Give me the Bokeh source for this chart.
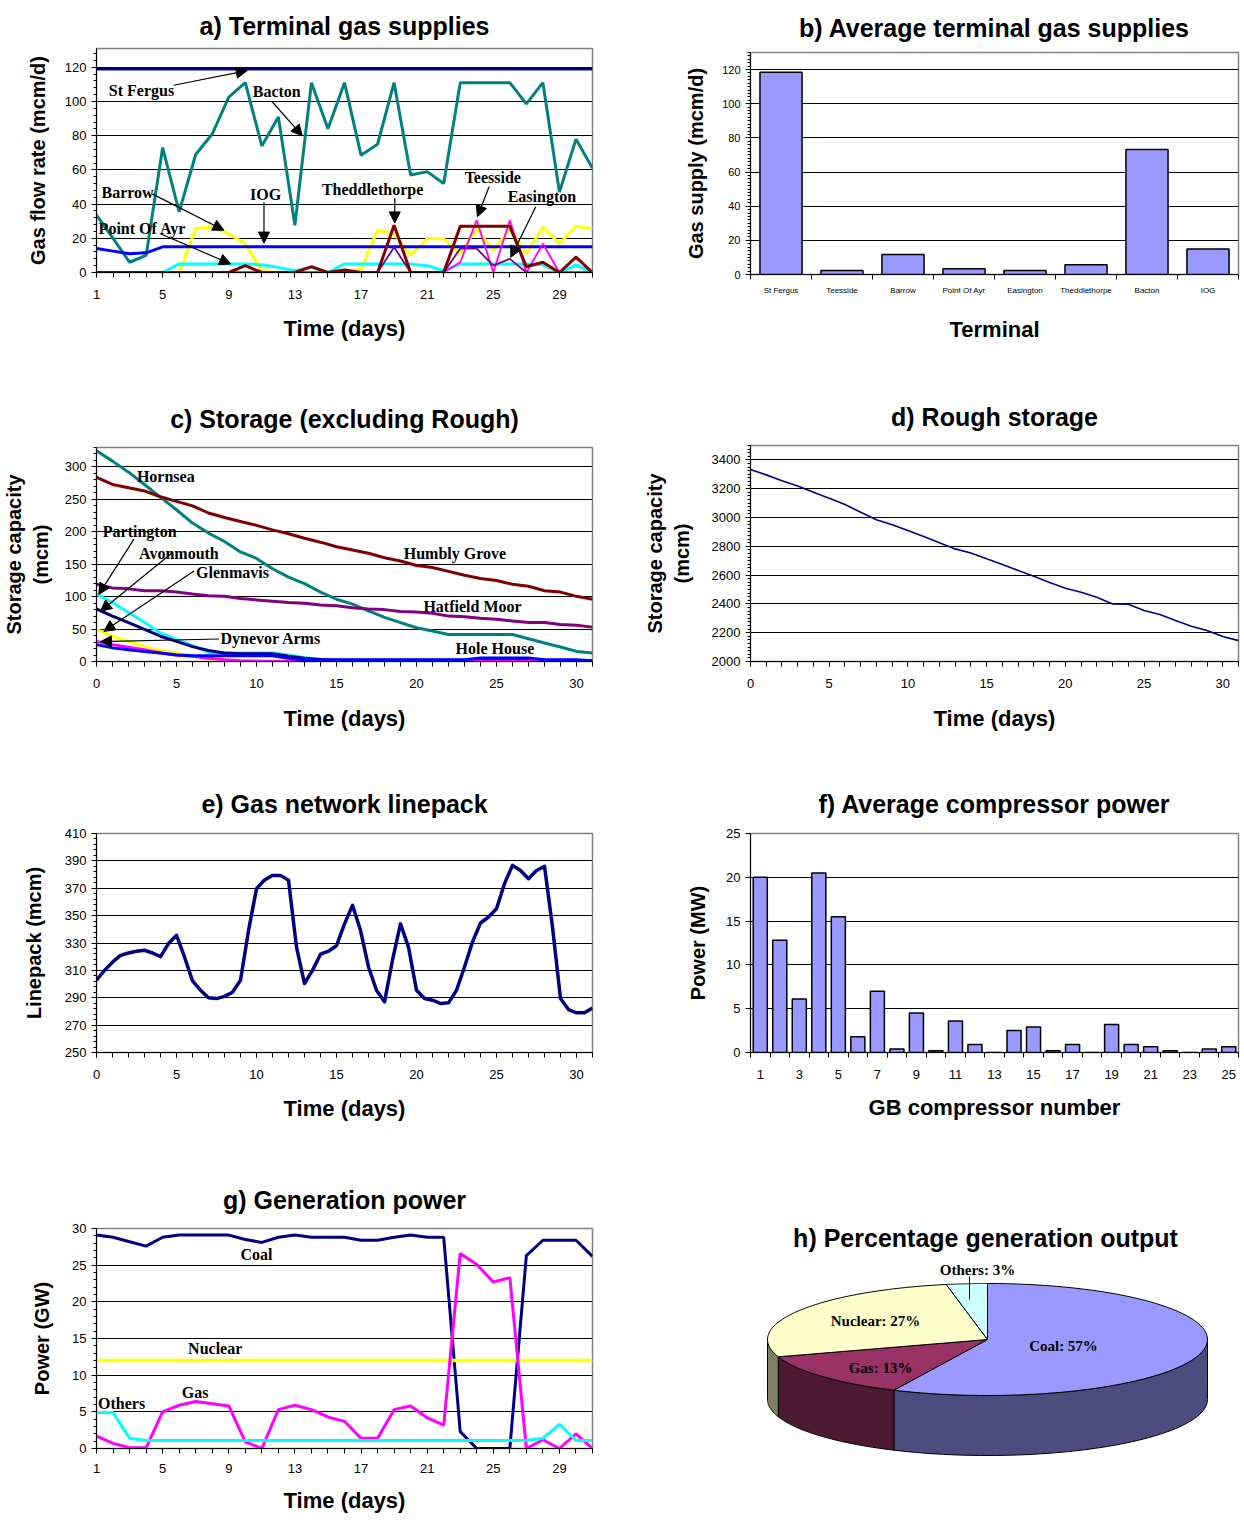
import numpy as np
from bokeh.plotting import figure
from bokeh.layouts import row, column
from bokeh.models import (Range1d, FixedTicker, SingleIntervalTicker, Label, Arrow, NormalHead)
from bokeh.embed import file_html
from bokeh.resources import INLINE

SANS = "Liberation Sans"
SERIF = "Liberation Serif"

# ---------------- data ----------------
# a) terminal gas supplies (mcm/d), days 1..31
days_a = list(range(1, 32))
st_fergus = [119, 119, 119, 119, 119, 119, 119, 119, 119, 119, 119, 119, 119, 119, 119, 119,
             119, 119, 119, 119, 119, 119, 119, 119, 119, 119, 119, 119, 119, 119, 119]
bacton = [33.5, 20, 6, 10, 73, 35.5, 69, 81, 102.5, 111, 74, 91, 27.6, 111, 84, 111,
          68.6, 75, 111, 57, 59, 52, 111, 111, 111, 111, 98.6, 111, 47, 78, 61]
barrow = [0, 0, 0, 0, 0, 0, 25.6, 26.6, 22.7, 16.8, 1, 0, 0, 0, 0, 0,
          2, 24.6, 22.7, 10, 19.7, 19.7, 11, 25.6, 12.8, 25.6, 11, 26.6, 16.8, 27, 25.6]
point_of_ayr = [0, 0, 0, 0, 0, 5, 5, 5, 5, 5, 4.5, 3, 1, 3, 0, 5,
                5, 5, 5, 5, 4, 1, 5, 5, 5, 5, 5, 4.5, 0, 4.5, 0]
iog = [14, 12.5, 11, 11.5, 15, 15, 15, 15, 15, 15, 15, 15, 15, 15, 15, 15,
       15, 15, 15, 15, 15, 15, 15, 15, 15, 15, 15, 15, 15, 15, 15]
teesside = [0, 0, 0, 0, 0, 0, 0, 0, 0, 0, 0, 0, 0, 0, 0, 0,
            0, 0, 0, 0, 0, 0, 6, 30.6, 0, 30.6, 0, 16.8, 0, 0, 0]
easington = [0, 0, 0, 0, 0, 0, 0, 0, 0, 0, 0, 0, 0, 0, 0, 0,
             0, 0, 14.8, 0, 0, 0, 14, 14, 4, 8, 0, 0, 0, 0, 0]
theddlethorpe = [0, 0, 0, 0, 0, 0, 0, 0, 0, 4, 0, 0, 0, 3.4, 0, 1.4,
                 0, 0, 27.6, 0, 0, 0, 27, 27, 27, 27, 3.4, 6, 0, 9, 0]

# b) average terminal gas supplies
terminals = ["St Fergus", "Teesside", "Barrow", "Point Of Ayr", "Easington",
             "Theddlethorpe", "Bacton", "IOG"]
avg_supply = [118.4, 2.3, 11.7, 3.3, 2.3, 5.7, 73.2, 15.0]

# c) storage excluding Rough (mcm), days 0..31
days_c = list(range(0, 32))
hornsea = [325, 309, 292, 273, 253, 234, 213.5, 198, 185, 169, 159, 143, 130, 120, 107, 96,
           88.5, 78, 68, 60, 52, 47, 41.7, 41.7, 41.7, 41.7, 41.7, 35, 28.6, 22.4, 15.6, 13]
humbly_grove = [284, 273, 268, 263, 254, 247, 240, 229, 222, 216, 210, 203, 197, 190, 184, 177,
                172, 167, 160, 155, 148, 145, 139, 133, 128, 125, 119, 116, 109, 107, 100.5, 96]
hatfield_moor = [119, 113.5, 112, 109, 109, 107, 104, 101.5, 100.5, 97, 95, 93, 91, 90, 87, 86,
                 83, 81, 80, 77, 76.5, 74.5, 70, 69, 66.7, 65, 62.5, 60, 60, 57, 56, 53]
partington = [104, 91, 75.5, 60, 44, 34, 24.5, 14, 13, 13, 13, 13, 10, 6, 3, 2,
              2, 2, 2, 2, 2, 2, 2, 2, 2, 2, 2, 1, 1, 1, 1, 1]
avonmouth = [81, 70, 60, 49.5, 39, 31, 23, 17, 13, 12, 12, 12, 8, 5, 3, 2,
             2, 2, 2, 2, 2, 2, 2, 2, 2, 2, 2, 1, 1, 1, 1, 1]
glenmavis = [49.5, 39, 31, 23, 17, 13, 8, 3.6, 1, 1, 1, 1, 0.5, 0, 0, 0,
             0, 0, 0, 0, 0, 0, 0, 0, 0, 0, 0, 0, 0, 0, 0, 0]
dynevor_arms = [31, 26, 22, 18, 13, 10, 8, 5, 2.6, 1, 0.5, 0, 0, 0, 0, 0,
                0, 0, 0, 0, 0, 0, 0, 0, 0, 0, 0, 0, 0, 0, 0, 0]
hole_house = [26, 21, 18, 15.6, 13, 10, 9, 9, 9, 9, 9, 9, 5, 2.6, 2.6, 2.6,
              2.6, 2.6, 2.6, 2.6, 2.6, 2.6, 2.6, 2.6, 5.5, 5.5, 5.5, 5.5, 2.6, 2.6, 2.6, 1]

# d) Rough storage (mcm), days 0..31
rough = [3333, 3296, 3256, 3219, 3175, 3134, 3090, 3037, 2985, 2949, 2909, 2868, 2824, 2782,
         2754, 2713, 2673, 2632, 2592, 2548, 2509, 2481, 2446, 2400, 2398, 2354, 2326, 2285,
         2245, 2215, 2173, 2145]

# e) gas network linepack (mcm), half-day readings 0..31
time_e = [0, 0.5, 1, 1.5, 2, 2.5, 3, 3.5, 4, 4.5, 5, 5.5, 6, 6.5, 7, 7.5, 8, 8.5, 9, 9.5,
          10, 10.5, 11, 11.5, 12, 12.5, 13, 13.5, 14, 14.5, 15, 15.5, 16, 16.5, 17, 17.5,
          18, 18.5, 19, 19.5, 20, 20.5, 21, 21.5, 22, 22.5, 23, 23.5, 24, 24.5, 25, 25.5,
          26, 26.5, 27, 27.5, 28, 28.5, 29, 29.5, 30, 30.5, 31]
linepack = [302.8, 310, 316, 321, 322.7, 324, 324.7, 322.7, 320, 329.6, 335.6, 319.8, 302.3,
            295.5, 290, 289.4, 291, 294, 302.8, 339, 369.7, 376, 379.4, 379.4, 375.8, 327,
            300.4, 310, 321.8, 324, 328, 344, 357.5, 339.3, 312.5, 295.5, 287, 317.4, 344,
            327, 295.5, 289.4, 288.2, 285.8, 286.3, 295.5, 312.5, 330.8, 344.6, 349, 355,
            373.4, 386.7, 383, 377, 383, 386, 341.7, 289.4, 281.4, 279, 279, 282.6]
linepack_ticks = [250, 270, 290, 310, 330, 350, 370, 390, 410]

# f) average compressor power (MW)
compressors = list(range(1, 26))
comp_power = [20, 12.8, 6.1, 20.5, 15.5, 1.8, 7.0, 0.4, 4.5, 0.2, 3.6, 0.9, 0, 2.5, 2.9, 0.2,
              0.9, 0, 3.2, 0.9, 0.65, 0.2, 0, 0.4, 0.65]

# g) generation power (GW), days 1..31
coal = [29.1, 28.8, 28.2, 27.6, 28.8, 29.1, 29.1, 29.1, 29.1, 28.5, 28.1, 28.8, 29.1, 28.8,
        28.8, 28.8, 28.4, 28.4, 28.8, 29.1, 28.8, 28.8, 2.3, 0, 0, 0, 26.3, 28.4, 28.4, 28.4, 26.2]
gas = [1.7, 0.7, 0.1, 0.1, 5.0, 5.9, 6.4, 6.1, 5.8, 0.9, 0, 5.3, 5.9, 5.3, 4.3, 3.7, 1.4, 1.4,
       5.3, 5.8, 4.2, 3.2, 26.6, 25.1, 22.7, 23.3, 0, 1.2, 0, 2.0, 0]
nuclear = [12, 12, 12, 12, 12, 12, 12, 12, 12, 12, 12, 12, 12, 12, 12, 12,
           12, 12, 12, 12, 12, 12, 12, 12, 12, 12, 12, 12, 12, 12, 12]
others = [4.9, 4.9, 1.4, 1.1, 1.1, 1.1, 1.1, 1.1, 1.1, 1.1, 1.1, 1.1, 1.1, 1.1, 1.1, 1.1,
          1.1, 1.1, 1.1, 1.1, 1.1, 1.1, 1.1, 1.1, 1.1, 1.1, 1.1, 1.4, 3.3, 1.1, 1.1]

# h) percentage generation output
gen_names = ["Coal", "Gas", "Nuclear", "Others"]
gen_share = [57, 13, 27, 3]

# ---------------- helpers ----------------
LW, RW = 628, 612
LL, LR = 96, 36      # left column frame borders
RL, RR = 122, 2      # right column frame borders


def make_fig(width, height, left, right, top, bottom, xr, yr, title, toff, tstand):
    p = figure(width=width, height=height, x_range=Range1d(*xr), y_range=Range1d(*yr),
               output_backend="svg", toolbar_location=None,
               min_border_left=left, min_border_right=right,
               min_border_top=top, min_border_bottom=bottom)
    p.title.text = title
    p.title.align = "center"
    p.title.text_font = SANS
    p.title.text_font_size = "25px"
    p.title.text_font_style = "bold"
    p.title.text_color = "black"
    p.title.offset = toff
    p.title.standoff = tstand
    p.xgrid.grid_line_color = None
    p.ygrid.grid_line_color = "#000000"
    p.ygrid.grid_line_width = 1
    p.outline_line_color = "#808080"
    p.outline_line_width = 1.5
    p.background_fill_color = "white"
    p.border_fill_color = "white"
    for ax in p.axis:
        ax.axis_line_color = "black"
        ax.axis_line_width = 1
        ax.major_tick_line_color = "black"
        ax.minor_tick_line_color = "black"
        ax.major_tick_in = 0
        ax.major_tick_out = 5
        ax.minor_tick_in = 0
        ax.minor_tick_out = 3
        ax.major_label_text_font = SANS
        ax.major_label_text_font_size = "13px"
        ax.major_label_text_color = "black"
        ax.axis_label_text_font = SANS
        ax.axis_label_text_font_size = "20px"
        ax.axis_label_text_font_style = "bold"
        ax.axis_label_text_color = "black"
    p.xaxis.axis_label_text_font_size = "22px"
    p.xaxis.major_label_standoff = 12
    p.xaxis.axis_label_standoff = 14
    p.xaxis.minor_tick_out = 5
    return p


def lbl(p, x, y, text, size="16px"):
    p.add_layout(Label(x=x, y=y, text=text, text_font=SERIF, text_font_style="bold",
                       text_font_size=size, text_align="center", text_baseline="middle",
                       text_color="black"))


def arr(p, x0, y0, x1, y1):
    p.add_layout(Arrow(end=NormalHead(size=11, fill_color="black", line_color="black"),
                       x_start=x0, y_start=y0, x_end=x1, y_end=y1,
                       line_color="black", line_width=1.2))


# ---------------- a ----------------
pa = make_fig(LW, 385, LL, LR, 48, 113, (1, 31), (0, 131),
              "a) Terminal gas supplies", 3, 17)
pa.yaxis.ticker = SingleIntervalTicker(interval=20, num_minor_ticks=5)
pa.xaxis.ticker = FixedTicker(ticks=[1, 5, 9, 13, 17, 21, 25, 29], minor_ticks=days_a)
pa.xaxis.axis_label = "Time (days)"
pa.yaxis.axis_label = "Gas flow rate (mcm/d)"
pa.yaxis.axis_label_standoff = 13
srcs_a = [(st_fergus, "#000080", 3), (bacton, "#008080", 3), (barrow, "#FFFF00", 3),
          (point_of_ayr, "#00FFFF", 3), (iog, "#0000FF", 3), (teesside, "#FF00FF", 1.8),
          (easington, "#800080", 1.8), (theddlethorpe, "#800000", 3)]
for ys, c, w in srcs_a:
    pa.line(days_a, ys, line_color=c, line_width=w)
lbl(pa, 3.72, 106.4, "St Fergus"); arr(pa, 5.66, 109.5, 10.12, 118.1)
lbl(pa, 11.9, 105.8, "Bacton"); arr(pa, 11.64, 99.7, 13.45, 79.9)
lbl(pa, 2.88, 46.6, "Barrow"); arr(pa, 4.37, 46, 8.71, 24.7)
lbl(pa, 3.78, 25.9, "Point Of Ayr"); arr(pa, 4.87, 22.7, 9.11, 5.0)
lbl(pa, 11.23, 45.4, "IOG"); arr(pa, 11.13, 41.1, 11.13, 17.2)
lbl(pa, 17.7, 48.4, "Theddlethorpe"); arr(pa, 19.04, 43.5, 19.04, 29)
lbl(pa, 24.97, 55.5, "Teesside"); arr(pa, 24.75, 50.3, 24.04, 32.6)
lbl(pa, 27.94, 44.2, "Easington"); arr(pa, 27.57, 38.5, 26.06, 8.9)

# ---------------- b ----------------
xb = list(range(1, len(terminals) + 1))
pb = make_fig(RW, 385, RL, RR, 52, 111, (0.5, 8.5), (0, 130),
              "b) Average terminal gas supplies", 4, 21)
pb.yaxis.ticker = SingleIntervalTicker(interval=20, num_minor_ticks=10)
pb.yaxis.major_label_text_font_size = "11px"
pb.xaxis.ticker = FixedTicker(ticks=xb, minor_ticks=[v + 0.5 for v in [0] + xb])
pb.xaxis.major_tick_out = 0
pb.xaxis.major_label_overrides = {v: t for v, t in zip(xb, terminals)}
pb.xaxis.major_label_text_font_size = "8px"
pb.xaxis.major_label_standoff = 6
pb.xaxis.axis_label = "Terminal"
pb.xaxis.axis_label_standoff = 19
pb.yaxis.axis_label = "Gas supply (mcm/d)"
pb.yaxis.axis_label_standoff = 12
pb.vbar(x=xb, top=avg_supply, width=0.69, fill_color="#9999FF", line_color="black",
        line_width=1.5)

# ---------------- c ----------------
pc = make_fig(LW, 385, LL, LR, 62, 109, (0, 31), (0, 330),
              "c) Storage (excluding Rough)", -9, 29)
pc.yaxis.ticker = SingleIntervalTicker(interval=50, num_minor_ticks=5)
pc.xaxis.ticker = FixedTicker(ticks=[0, 5, 10, 15, 20, 25, 30], minor_ticks=days_c)
pc.xaxis.axis_label = "Time (days)"
pc.xaxis.axis_label_standoff = 15
pc.yaxis.axis_label = "Storage capacity\n(mcm)"
pc.yaxis.axis_label_standoff = 10
srcs_c = [(hornsea, "#008080"), (humbly_grove, "#800000"), (hatfield_moor, "#800080"),
          (partington, "#00FFFF"), (avonmouth, "#000080"), (glenmavis, "#FFFF00"),
          (dynevor_arms, "#FF00FF"), (hole_house, "#0000FF")]
for ys, c in srcs_c:
    pc.line(days_c, ys, line_color=c, line_width=3)
lbl(pc, 4.33, 286, "Hornsea")
lbl(pc, 22.4, 167, "Humbly Grove")
lbl(pc, 23.5, 84.9, "Hatfield Moor")
lbl(pc, 24.9, 19.7, "Hole House")
lbl(pc, 2.7, 201, "Partington"); arr(pc, 2.34, 188.8, 0.14, 103.5)
lbl(pc, 5.15, 167, "Avonmouth"); arr(pc, 4.75, 168, 0.25, 77.6)
lbl(pc, 8.5, 137.7, "Glenmavis"); arr(pc, 6.1, 139.6, 0.46, 46.5)
lbl(pc, 10.9, 35, "Dynevor Arms"); arr(pc, 7.66, 34.7, 0.25, 30.6)

# ---------------- d ----------------
pd_ = make_fig(RW, 385, RL, RR, 60, 109, (0, 31), (2000, 3500),
               "d) Rough storage", -21, 29)
pd_.yaxis.ticker = SingleIntervalTicker(interval=200, num_minor_ticks=8)
pd_.xaxis.ticker = FixedTicker(ticks=[0, 5, 10, 15, 20, 25, 30], minor_ticks=days_c)
pd_.xaxis.axis_label = "Time (days)"
pd_.xaxis.axis_label_standoff = 15
pd_.yaxis.axis_label = "Storage capacity\n(mcm)"
pd_.yaxis.axis_label_standoff = 16
pd_.line(days_c, rough, line_color="#000080", line_width=1.6)

# ---------------- e ----------------
pe = make_fig(LW, 390, LL, LR, 63, 108, (0, 31), (250, 410),
              "e) Gas network linepack", 4, 31)
pe.yaxis.ticker = FixedTicker(ticks=linepack_ticks, minor_ticks=list(range(250, 411, 4)))
pe.xaxis.ticker = FixedTicker(ticks=[0, 5, 10, 15, 20, 25, 30], minor_ticks=days_c)
pe.xaxis.axis_label = "Time (days)"
pe.yaxis.axis_label = "Linepack (mcm)"
pe.yaxis.axis_label_standoff = 17
pe.line(time_e, linepack, line_color="#000080", line_width=3.5, line_join="round")

# ---------------- f ----------------
pf = make_fig(RW, 390, RL, RR, 63, 108, (0.5, 25.5), (0, 25),
              "f) Average compressor power", 4, 32)
pf.yaxis.ticker = SingleIntervalTicker(interval=5, num_minor_ticks=0)
pf.xaxis.ticker = FixedTicker(ticks=[1, 3, 5, 7, 9, 11, 13, 15, 17, 19, 21, 23, 25],
                              minor_ticks=[v - 0.5 for v in compressors] + [25.5])
pf.xaxis.major_tick_out = 0
pf.xaxis.axis_label = "GB compressor number"
pf.xaxis.axis_label_standoff = 13
pf.yaxis.axis_label = "Power (MW)"
pf.yaxis.axis_label_standoff = 14
pf.vbar(x=compressors, top=comp_power, width=0.72, fill_color="#9999FF", line_color="black",
        line_width=1.5)

# ---------------- g ----------------
pg = make_fig(LW, 356, LL, LR, 68, 68, (1, 31), (0, 30),
              "g) Generation power", -15, 30)
pg.yaxis.ticker = SingleIntervalTicker(interval=5, num_minor_ticks=5)
pg.xaxis.ticker = FixedTicker(ticks=[1, 5, 9, 13, 17, 21, 25, 29], minor_ticks=days_a)
pg.xaxis.major_label_standoff = 10
pg.xaxis.axis_label_standoff = 12
pg.xaxis.axis_label = "Time (days)"
pg.yaxis.axis_label = "Power (GW)"
pg.yaxis.axis_label_standoff = 16
pg.line(days_a, coal, line_color="#000080", line_width=3)
pg.line(days_a, nuclear, line_color="#FFFF00", line_width=3.5)
pg.line(days_a, gas, line_color="#FF00FF", line_width=3)
pg.line(days_a, others, line_color="#00FFFF", line_width=3)
lbl(pg, 10.67, 26.4, "Coal")
lbl(pg, 8.18, 13.6, "Nuclear")
lbl(pg, 6.96, 7.6, "Gas")
lbl(pg, 2.52, 6.2, "Others")

# ---------------- h (3-D pie), page-pixel coordinates ----------------
H_TOP = 385 + 385 + 390
ph = figure(width=RW, height=356, x_range=Range1d(LW + RL, LW + RW - RR),
            y_range=Range1d(H_TOP + 356, H_TOP),
            output_backend="svg", toolbar_location=None,
            min_border_left=RL, min_border_right=RR, min_border_top=0, min_border_bottom=0)
ph.axis.visible = False
ph.grid.grid_line_color = None
ph.outline_line_color = None
ph.border_fill_color = "white"
cx, cy, rx, ry, depth = 987, 1339, 220, 56, 60
top_colors = ["#9999FF", "#993366", "#FFFFCC", "#CCFFFF"]
side_colors = ["#4C4C7F", "#4D1933", "#7F7F66", "#668080"]
frac = np.array(gen_share, dtype=float) / sum(gen_share)
ends = np.cumsum(frac) * 2 * np.pi
starts = ends - frac * 2 * np.pi
side_xs, side_ys, side_c = [], [], []
for a0, a1, c in zip(starts, ends, side_colors):
    lo, hi = max(a0, np.pi / 2), min(a1, 3 * np.pi / 2)
    if hi <= lo:
        continue
    t = np.linspace(lo, hi, 60)
    xt = cx + rx * np.sin(t)
    yt = cy - ry * np.cos(t)
    side_xs.append(list(xt) + list(xt[::-1]))
    side_ys.append(list(yt) + list(yt[::-1] + depth))
    side_c.append(c)
ph.patches(side_xs, side_ys, fill_color=side_c, line_color="black", line_width=1)
top_xs, top_ys = [], []
for a0, a1 in zip(starts, ends):
    t = np.linspace(a0, a1, 80)
    top_xs.append([cx] + list(cx + rx * np.sin(t)))
    top_ys.append([cy] + list(cy - ry * np.cos(t)))
ph.patches(top_xs, top_ys, fill_color=top_colors, line_color="black", line_width=1)
lbl(ph, 1063, 1345, f"{gen_names[0]}: {gen_share[0]}%", "15px")
lbl(ph, 880, 1367, f"{gen_names[1]}: {gen_share[1]}%", "15px")
lbl(ph, 875, 1320, f"{gen_names[2]}: {gen_share[2]}%", "15px")
lbl(ph, 977, 1269, f"{gen_names[3]}: {gen_share[3]}%", "15px")
ph.line([969, 969], [1276, 1299], line_color="black", line_width=1)
ph.add_layout(Label(x=985, y=1237, text="h) Percentage generation output", text_font=SANS,
                    text_font_style="bold", text_font_size="25px", text_align="center",
                    text_baseline="middle", text_color="black"))

left_col = column(pa, pc, pe, pg)
right_col = column(pb, pd_, pf, ph)
layout = row(left_col, right_col)
open("out.html", "w").write(file_html(layout, INLINE))
